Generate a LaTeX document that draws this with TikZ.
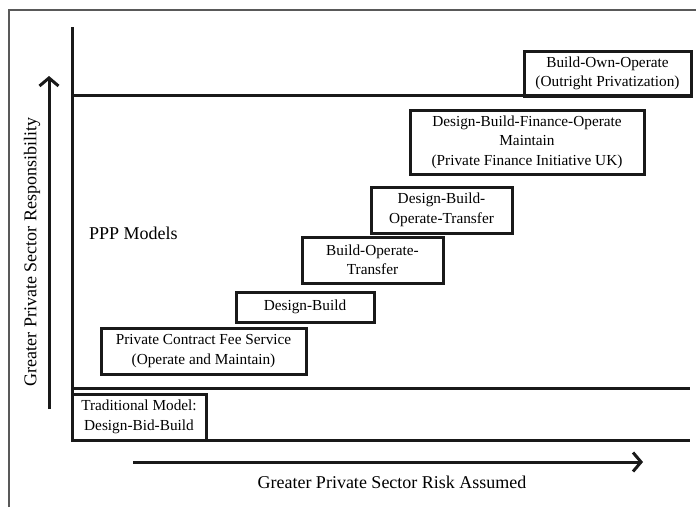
\documentclass[tikz,border=0pt]{standalone}
\usepackage{fontspec}
\setmainfont{Liberation Serif}
\usetikzlibrary{arrows.meta}
\begin{document}
\begin{tikzpicture}[x=1pt,y=-1pt,
  box/.style={draw=black!90,line width=3pt,align=center,inner sep=0pt,
    font=\fontsize{15.3}{19.5}\selectfont},
  axisline/.style={line width=3pt,black!90},
  frameline/.style={line width=1.4pt,black!65},
  lbl/.style={font=\fontsize{18}{21}\selectfont,inner sep=0pt},
  arr/.style={line width=3pt,black!90,-{Straight Barb[length=8pt,width=19pt]}}]
\useasboundingbox (0,0) rectangle (696,507);
% frame (top and left only)
\coordinate (f1) at (9,507);
\coordinate (f2) at (9,10);
\coordinate (f3) at (696,10);
\draw[frameline] (f1) -- (f2) -- (f3);
% axis and band lines
\coordinate (vtop) at (72,27);
\coordinate (vbot) at (72,440);
\coordinate (t1) at (72,95);
\coordinate (t2) at (691,95);
\coordinate (m1) at (72,388);
\coordinate (m2) at (690,388);
\coordinate (b2) at (690,440);
\draw[axisline] (vtop) -- (vbot) -- (b2);
\draw[axisline] (t1) -- (t2);
\draw[axisline] (m1) -- (m2);
% arrows
\coordinate (ya) at (49,409);
\coordinate (yb) at (49,76);
\coordinate (xa) at (133,462);
\coordinate (xb) at (643,462);
\draw[arr] (ya) -- (yb);
\draw[arr] (xa) -- (xb);
% axis labels
\node[lbl,rotate=90] (ylab) at (32,252) {Greater Private Sector Responsibility};
\node[lbl] (xlab) at (392,482) {Greater Private Sector Risk Assumed};
\node[lbl,anchor=west] (ppp) at (89,233) {PPP Models};
% boxes
\node[box,minimum width=134pt,minimum height=46pt] (trad) at (139,417) {Traditional Model:\\Design-Bid-Build};
\node[box,minimum width=205pt,minimum height=46pt] (pcfs) at (203.5,351) {Private Contract Fee Service\\(Operate and Maintain)};
\node[box,minimum width=138pt,minimum height=30pt] (db) at (305,307) {Design-Build};
\node[box,minimum width=141pt,minimum height=46pt] (bot) at (372.5,260) {Build-Operate-\\Transfer};
\node[box,minimum width=141pt,minimum height=46pt] (dbot) at (441.5,210) {Design-Build-\\Operate-Transfer};
\node[box,minimum width=234pt,minimum height=64pt] (dbfom) at (527,142) {Design-Build-Finance-Operate\\Maintain\\(Private Finance Initiative UK)};
\node[box,minimum width=167pt,minimum height=45pt] (boo) at (607.5,73.5) {Build-Own-Operate\\(Outright Privatization)};
\end{tikzpicture}
\end{document}
